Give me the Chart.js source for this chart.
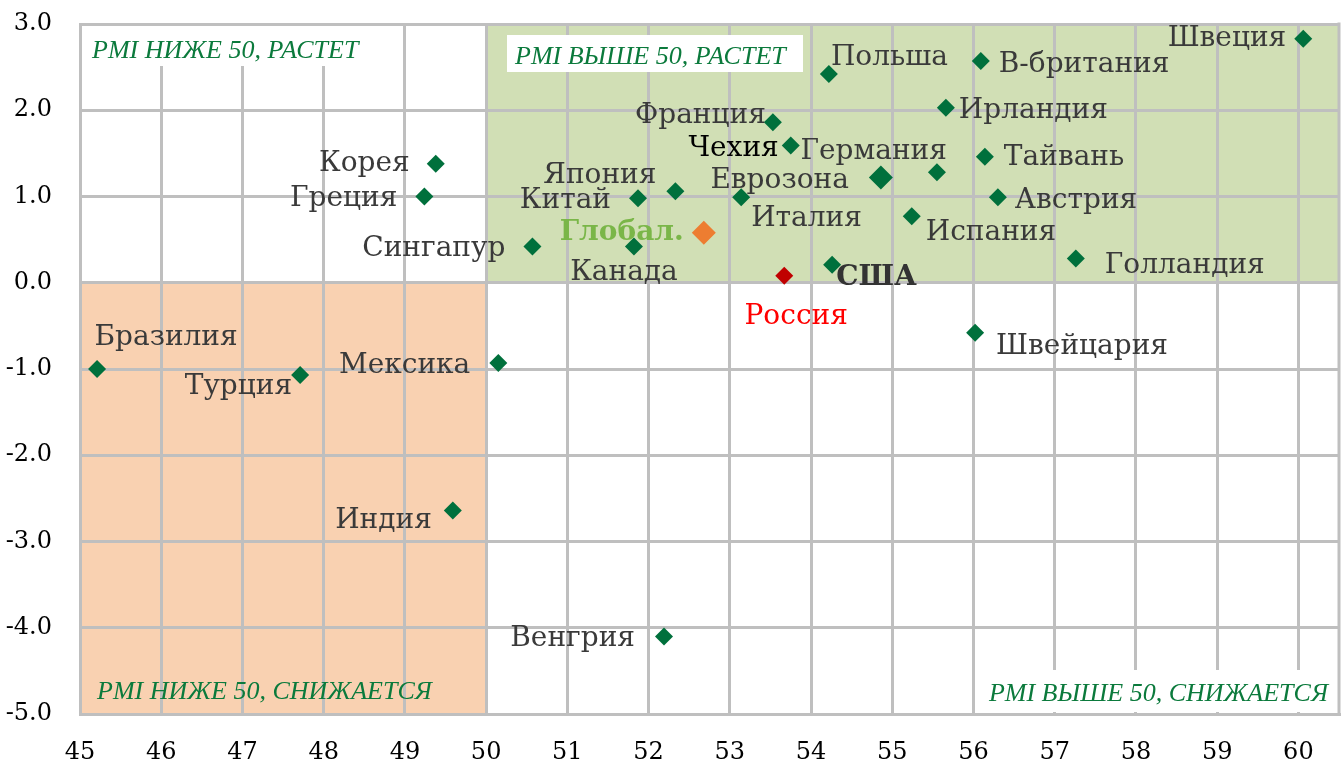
<!DOCTYPE html>
<html>
<head>
<meta charset="utf-8">
<script src="https://cdn.jsdelivr.net/npm/chart.js@4.4.0/dist/chart.umd.min.js"></script>
<style>
    html, body { margin: 0; padding: 0; background: #fff; }
</style>
</head>
<body>
<canvas id="pmiChart" width="1344" height="760"></canvas>
<script>
// страны и значения PMI (ось X) и изменение PMI (ось Y)
var countries = ['Бразилия', 'Турция', 'Мексика', 'Индия', 'Венгрия', 'Корея', 'Греция', 'Сингапур',
    'Канада', 'Китай', 'Япония', 'Глобал.', 'Италия', 'Франция', 'Чехия', 'Россия', 'Польша', 'США',
    'Еврозона', 'Испания', 'Германия', 'Ирландия', 'Швейцария', 'В-британия', 'Тайвань', 'Австрия',
    'Голландия', 'Швеция'];
var pmiValues = [45.21, 47.71, 50.15, 49.59, 52.19, 49.38, 49.24, 50.57,
    51.82, 51.87, 52.33, 52.68, 53.14, 53.53, 53.75, 53.67, 54.22, 54.26,
    54.86, 55.24, 55.55, 55.66, 56.02, 56.09, 56.14, 56.30,
    57.26, 60.06];
var pmiChange = [-1.00, -1.07, -0.93, -2.64, -4.10, 1.38, 1.00, 0.42,
    0.42, 0.98, 1.06, 0.58, 0.99, 1.86, 1.59, 0.08, 2.42, 0.21,
    1.22, 0.77, 1.28, 2.03, -0.58, 2.57, 1.46, 0.99,
    0.28, 2.83];

var xTicks = [45, 60];
var yTicks = [-5, 3];
var quadrantTitles = ['PMI НИЖЕ 50, РАСТЕТ', 'PMI ВЫШЕ 50, РАСТЕТ', 'PMI НИЖЕ 50, СНИЖАЕТСЯ', 'PMI ВЫШЕ 50, СНИЖАЕТСЯ'];

// где рисовать подписи относительно точки: [dx, dy, выравнивание]
var labelPlace = [[69, -31, 'center'], [-8, 12, 'right'], [-28, 3, 'right'], [-21, 10, 'right'],
    [-29, 2, 'right'], [-26, 0, 'right'], [-27, 2, 'right'], [-27, 2, 'right'],
    [-10, 26, 'center'], [-27, 2, 'right'], [-19, -16, 'right'], [-20, 0, 'right'],
    [10, 21, 'left'], [-7, -7, 'right'], [-12, 3, 'right'], [12, 41, 'center'],
    [2, -16, 'left'], [4, 13, 'left'], [-32, 3, 'right'], [14, 16, 'left'],
    [10, -21, 'right'], [13, 3, 'left'], [21, 14, 'left'], [18, 4, 'left'],
    [19, 1, 'left'], [17, 3, 'left'], [29, 7, 'left'], [-17, 0, 'right']];

var SERIF = '"DejaVu Serif", "Liberation Serif", serif';
var TITLE_FONT = 'italic 26px "Liberation Serif", serif';

function pointColor(name) {
    if (name === 'Глобал.') return '#ed7d31';
    if (name === 'Россия') return '#c00000';
    return '#00703c';
}
function pointSize(name) {
    if (name === 'Глобал.' || name === 'Еврозона') return 12;
    return 9;
}
function labelStyle(name) {
    if (name === 'Глобал.') return {color: '#7ab648', weight: 'bold '};
    if (name === 'Россия') return {color: '#ff0000', weight: ''};
    if (name === 'США') return {color: '#333333', weight: 'bold '};
    if (name === 'Чехия') return {color: '#000000', weight: ''};
    return {color: '#3a3a3a', weight: ''};
}

var points = countries.map(function (c, i) { return {x: pmiValues[i], y: pmiChange[i]}; });

// убираем лишние отступы, которые оси добавляют под подписи
function noPad(s) {
    s.paddingTop = 0; s.paddingBottom = 0; s.paddingLeft = 0; s.paddingRight = 0;
}

var quadrantPlugin = {
    id: 'quadrants',
    beforeDraw: function (chart) {
        var ctx = chart.ctx, a = chart.chartArea;
        var x50 = chart.scales.x.getPixelForValue(50);
        var y0 = chart.scales.y.getPixelForValue(0);
        ctx.save();
        ctx.fillStyle = '#d1dfb5';
        ctx.fillRect(x50, a.top, a.right - x50, y0 - a.top);
        ctx.fillStyle = '#f9d1b1';
        ctx.fillRect(a.left, y0, x50 - a.left, a.bottom - y0);
        ctx.restore();
    },
    beforeDatasetsDraw: function (chart) {
        var ctx = chart.ctx, a = chart.chartArea;
        ctx.save();
        // правая граница области
        ctx.strokeStyle = '#bfbfbf';
        ctx.lineWidth = 3;
        ctx.beginPath();
        ctx.moveTo(a.right, a.top - 1.5);
        ctx.lineTo(a.right, a.bottom + 1.5);
        ctx.stroke();
        // белые подложки под заголовками квадрантов
        ctx.fillStyle = '#ffffff';
        ctx.fillRect(a.left + 2, a.top + 2, 290, 40);
        ctx.fillRect(a.left + 427, a.top + 11, 296, 37);
        ctx.fillRect(a.right - 354, a.bottom - 44, 352, 42);

        ctx.fillStyle = '#0b7a3c';
        ctx.font = TITLE_FONT;
        ctx.textBaseline = 'middle';
        ctx.textAlign = 'left';
        ctx.fillText(quadrantTitles[0], a.left + 12, a.top + 27);
        ctx.fillText(quadrantTitles[1], a.left + 435, a.top + 33);
        ctx.fillText(quadrantTitles[2], a.left + 17, a.bottom - 22);
        ctx.textAlign = 'right';
        ctx.fillText(quadrantTitles[3], a.right - 11, a.bottom - 20);
        ctx.restore();
    },
    afterDatasetsDraw: function (chart) {
        var ctx = chart.ctx;
        var meta = chart.getDatasetMeta(0);
        ctx.save();
        ctx.textBaseline = 'middle';
        meta.data.forEach(function (el, i) {
            var st = labelStyle(countries[i]);
            var p = labelPlace[i];
            ctx.font = st.weight + '28px ' + SERIF;
            ctx.fillStyle = st.color;
            ctx.textAlign = p[2];
            ctx.fillText(countries[i], el.x + p[0], el.y + p[1]);
        });
        ctx.restore();
    }
};

new Chart(document.getElementById('pmiChart').getContext('2d'), {
    type: 'scatter',
    data: {
        datasets: [{
            label: 'PMI',
            data: points,
            pointStyle: 'rectRot',
            pointRadius: countries.map(pointSize),
            pointBackgroundColor: countries.map(pointColor),
            pointBorderWidth: 0
        }]
    },
    options: {
        responsive: false,
        animation: false,
        layout: {autoPadding: false, padding: {top: 24, right: 5, left: 0, bottom: 0}},
        plugins: {legend: {display: false}, tooltip: {enabled: false}},
        scales: {
            x: {
                type: 'linear',
                min: xTicks[0],
                max: 60.5,
                afterFit: function (s) { s.height = 46; noPad(s); },
                grid: {color: '#bfbfbf', lineWidth: 3, drawTicks: true, tickLength: 24, tickColor: 'rgba(0,0,0,0)'},
                border: {color: '#bfbfbf', width: 3},
                ticks: {
                    stepSize: 1,
                    includeBounds: false,
                    padding: 0,
                    color: '#000',
                    font: {family: SERIF, size: 24}
                }
            },
            y: {
                min: yTicks[0],
                max: yTicks[1],
                afterFit: function (s) { s.width = 80; noPad(s); },
                grid: {color: '#bfbfbf', lineWidth: 3, drawTicks: false},
                border: {color: '#bfbfbf', width: 3},
                ticks: {
                    stepSize: 1,
                    padding: 28,
                    color: '#000',
                    font: {family: SERIF, size: 24},
                    callback: function (v) { return v.toFixed(1); }
                }
            }
        }
    },
    plugins: [quadrantPlugin]
});
</script>
</body>
</html>
